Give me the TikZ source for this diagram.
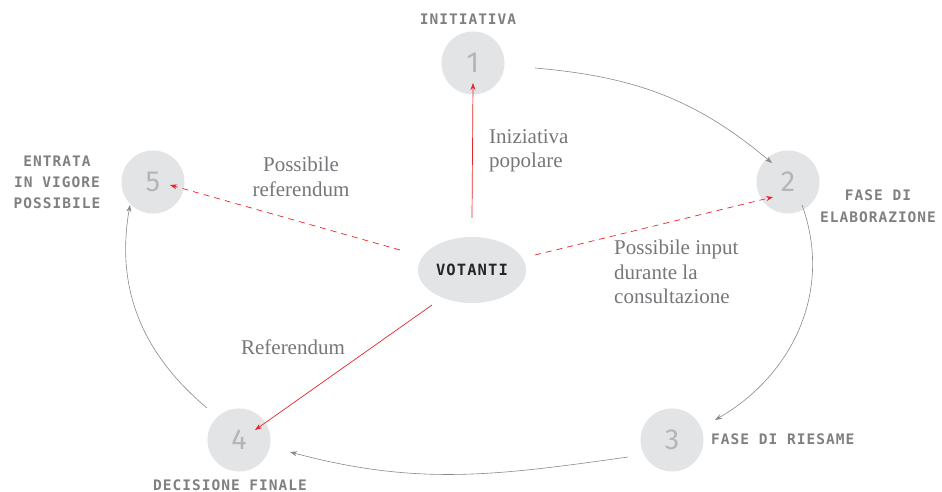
\documentclass[tikz,border=0pt]{standalone}
\usepackage{fontspec}
\setmainfont{Liberation Serif}
\newfontfamily\capsfont{DejaVu Sans Mono}[LetterSpace=7]
\newfontfamily\numfont{Fira Sans}
\usetikzlibrary{arrows.meta,shapes.geometric,calc}
\definecolor{circlegray}{HTML}{E3E4E6}
\definecolor{numgray}{HTML}{B4B5B8}
\definecolor{labgray}{HTML}{808080}
\definecolor{txtgray}{HTML}{77777B}
\definecolor{linegray}{HTML}{8A8A8A}
\definecolor{myred}{HTML}{E5252B}
\tikzset{
  numcircle/.style={circle,fill=circlegray,minimum size=63pt,inner sep=0pt,text=numgray,font=\numfont\fontsize{29}{29}\selectfont},
  capslabel/.style={inner sep=0pt,text=labgray,font=\capsfont\bfseries\fontsize{14.5}{21}\selectfont},
  serlabel/.style={inner sep=0pt,text=txtgray,font=\fontsize{21}{24.5}\selectfont},
  grayarrow/.style={draw=linegray,line width=0.6pt,-{Stealth[length=7pt,width=5pt]}},
  redarrow/.style={draw=myred,line width=0.7pt,-{Stealth[length=7pt,width=5pt]}},
  reddash/.style={redarrow,dash pattern=on 6pt off 5pt}
}
\begin{document}
\begin{tikzpicture}[x=1pt,y=1pt]
\useasboundingbox (0,0) rectangle (942,492);
\fill[white] (0,0) rectangle (942,492);

\node[numcircle] (c1) at (473,429) {1};
\node[numcircle] (c2) at (788,310) {2};
\node[numcircle] (c3) at (672,52) {3};
\node[numcircle] (c4) at (239,52) {4};
\node[numcircle] (c5) at (153,310) {5};
\node[ellipse,fill=circlegray,minimum width=108pt,minimum height=66pt,inner sep=0pt,
      font=\capsfont\bfseries\fontsize{15.5}{16}\selectfont,text=black!85] (v) at (472,222) {VOTANTI};

% caps labels
\node[capslabel] (l1) at (468,473) {INITIATIVA};
\node[capslabel,align=center] (l5) at (57,310) {ENTRATA\\IN VIGORE\\POSSIBILE};
\node[capslabel,align=center,font=\capsfont\bfseries\fontsize{14.5}{22}\selectfont] (l2) at (878,286) {FASE DI\\ELABORAZIONE};
\node[capslabel,anchor=west] (l3) at (711,53) {FASE DI RIESAME};
\node[capslabel] (l4) at (230,7) {DECISIONE FINALE};

% serif labels
\node[serlabel,anchor=west,align=left] (t1) at (489,341) {Iniziativa\\popolare};
\node[serlabel,align=center] (t5) at (301,315) {Possibile\\referendum};
\node[serlabel,anchor=west,align=left] (t2) at (614,220) {Possibile input\\durante la\\consultazione};
\node[serlabel] (t4) at (293,145) {Referendum};

% gray cycle
\draw[grayarrow] ($(c1)+(62,-5)$) to[out=-5,in=140] ($(c2)+(-16,19)$);
\draw[grayarrow] ($(c2)+(14,-23)$) to[out=-70,in=30] ($(c3)+(43,20)$);
\draw[grayarrow] ($(c3)+(-44,-17)$) to[out=-172,in=-15] ($(c4)+(51,-12)$);
\draw[grayarrow] ($(c4)+(-32,32)$) to[out=140,in=-100] ($(c5)+(-23,-23)$);

% red arrows
\draw[redarrow] ($(v)+(0,52)$) -- ($(c1)+(0,-20)$);
\draw[reddash] ($(v)+(-72,20)$) -- ($(c5)+(17,-3)$);
\draw[reddash] ($(v)+(63,15)$) -- ($(c2)+(-15,-15)$);
\draw[redarrow] ($(v)+(-40,-35)$) -- ($(c4)+(16,10)$);
\end{tikzpicture}
\end{document}
